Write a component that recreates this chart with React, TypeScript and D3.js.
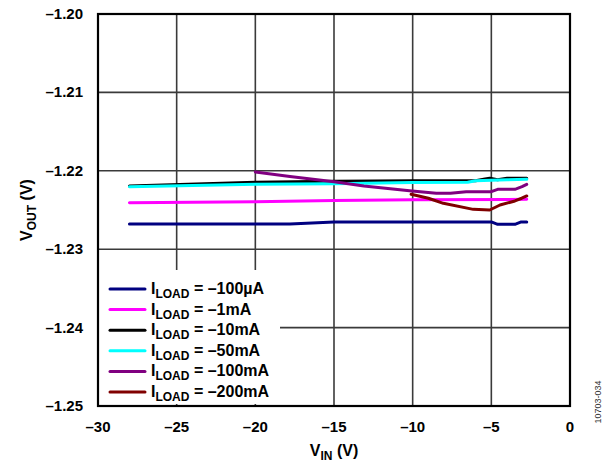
import React from "react";
import * as d3 from "d3";

const xTicks = [-30, -25, -20, -15, -10, -5, 0];
const xTickLabels = ["–30", "–25", "–20", "–15", "–10", "–5", "0"];
const yTicks = [-1.2, -1.21, -1.22, -1.23, -1.24, -1.25];
const yTickLabels = ["–1.20", "–1.21", "–1.22", "–1.23", "–1.24", "–1.25"];

const legendLabels = ["–100µA", "–1mA", "–10mA", "–50mA", "–100mA", "–200mA"];
const seriesColors = ["#000080", "#FF00FF", "#000000", "#00FFFF", "#800080", "#800000"];

const vin100uA = [-28, -17.8, -15, -5, -4.6, -3.5, -3.1, -2.75];
const vout100uA = [-1.2268, -1.2268, -1.22652, -1.22652, -1.22683, -1.22683, -1.22652, -1.22652];

const vin1mA = [-28, -20, -15, -10, -2.75];
const vout1mA = [-1.22406, -1.22394, -1.2238, -1.22368, -1.22364];

const vin10mA = [-28, -20, -15, -10, -6, -5.4, -5.1, -4.6, -4.0, -2.75];
const vout10mA = [-1.22195, -1.22147, -1.22133, -1.22126, -1.22126, -1.22105, -1.22096, -1.22115, -1.22096, -1.22096];

const vin50mA = [-28, -20, -15, -10, -6.5, -6.0, -4.0, -2.75];
const vout50mA = [-1.22203, -1.22173, -1.22165, -1.2215, -1.22147, -1.22126, -1.22115, -1.22109];

const vin100mA = [-20, -17.8, -15, -13.1, -10.2, -8.5, -7.6, -6.6, -5.0, -4.6, -3.5, -3.05, -2.75];
const vout100mA = [-1.22015, -1.22072, -1.22139, -1.22194, -1.22255, -1.22285, -1.22287, -1.22266, -1.22266, -1.22236, -1.22236, -1.22203, -1.22173];

const vin200mA = [-10.1, -9.0, -8.05, -6.15, -5.1, -4.45, -3.5, -3.07, -2.75];
const vout200mA = [-1.223, -1.2235, -1.22415, -1.22492, -1.225, -1.22436, -1.22385, -1.2235, -1.22321];

const seriesX = [vin100uA, vin1mA, vin10mA, vin50mA, vin100mA, vin200mA];
const seriesY = [vout100uA, vout1mA, vout10mA, vout50mA, vout100mA, vout200mA];

const FONT = "'Liberation Sans', Arial, sans-serif";

export default function App() {
  const left = 98, right = 570, top = 14, bottom = 406;
  const x = d3.scaleLinear().domain([-30, 0]).range([left, right]);
  const y = d3.scaleLinear().domain([-1.25, -1.2]).range([bottom, top]);
  const line = d3
    .line<[number, number]>()
    .x((d) => x(d[0]))
    .y((d) => y(d[1]));

  const legendX0 = 110, legendX1 = 145, legendTextX = 151, legendY0 = 289, legendDy = 20.6;

  return (
    <svg
      width={609}
      height={465}
      style={{ position: "absolute", left: 0, top: 0, background: "#fff" }}
      fontFamily={FONT}
    >
      <rect x={0} y={0} width={609} height={465} fill="#fff" />
      {xTicks.slice(1, -1).map((t) => (
        <line key={"gx" + t} x1={x(t)} x2={x(t)} y1={top} y2={bottom} stroke="#3a3a3a" strokeWidth={1.6} />
      ))}
      {yTicks.slice(1, -1).map((t) => (
        <line key={"gy" + t} x1={left} x2={right} y1={y(t)} y2={y(t)} stroke="#3a3a3a" strokeWidth={1.6} />
      ))}
      {seriesX.map((xs, i) => (
        <path
          key={"s" + i}
          d={line(xs.map((v, j) => [v, seriesY[i][j]] as [number, number])) || ""}
          fill="none"
          stroke={seriesColors[i]}
          strokeWidth={3}
          strokeLinejoin="round"
          strokeLinecap="round"
        />
      ))}
      <rect x={left} y={270} width={182} height={134} fill="#fff" />
      {legendLabels.map((lab, i) => {
        const ly = legendY0 + i * legendDy;
        return (
          <g key={"l" + i}>
            <line x1={legendX0} x2={legendX1} y1={ly} y2={ly} stroke={seriesColors[i]} strokeWidth={3} strokeLinecap="round" />
            <text x={legendTextX} y={ly + 5} fontSize={16} fontWeight="bold" fill="#000">
              <tspan>I</tspan>
              <tspan fontSize={12} dy={4}>LOAD</tspan>
              <tspan dy={-4}>{" = " + lab}</tspan>
            </text>
          </g>
        );
      })}
      <rect x={left} y={top} width={right - left} height={bottom - top} fill="none" stroke="#000" strokeWidth={2.2} />
      {yTicks.map((t, i) => (
        <text key={"yt" + t} x={83} y={y(t) + 5} textAnchor="end" fontSize={15} fontWeight="bold" fill="#000">
          {yTickLabels[i]}
        </text>
      ))}
      {xTicks.map((t, i) => (
        <text key={"xt" + t} x={x(t)} y={432} textAnchor="middle" fontSize={15} fontWeight="bold" fill="#000">
          {xTickLabels[i]}
        </text>
      ))}
      <text x={334} y={456} textAnchor="middle" fontSize={16} fontWeight="bold" fill="#000">
        <tspan>V</tspan>
        <tspan fontSize={12} dy={4}>IN</tspan>
        <tspan dy={-4}> (V)</tspan>
      </text>
      <text transform="translate(32,210) rotate(-90)" textAnchor="middle" fontSize={16} fontWeight="bold" fill="#000">
        <tspan>V</tspan>
        <tspan fontSize={12} dy={4}>OUT</tspan>
        <tspan dy={-4}> (V)</tspan>
      </text>
      <text transform="translate(601,402) rotate(-90)" textAnchor="middle" fontSize={9} fill="#333">
        10703-034
      </text>
    </svg>
  );
}
